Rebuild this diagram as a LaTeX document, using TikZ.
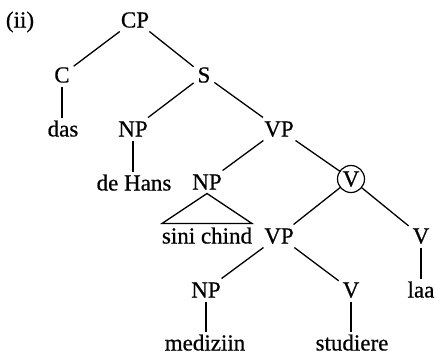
\documentclass[tikz,border=0pt]{standalone}
\usepackage{fontspec}
\setmainfont{Liberation Serif}
\newfontfamily\treefont{Liberation Serif}[FakeBold=0.6]
\begin{document}
\begin{tikzpicture}[x=1pt,y=-1pt,
  lbl/.style={inner sep=0pt,outer sep=4pt,text height=15pt,text depth=0pt,font=\treefont\fontsize{23}{27}\selectfont},
  circ/.style={circle,draw,line width=1.2pt,inner sep=0pt,outer sep=0pt,minimum size=27pt,text height=15pt,text depth=0pt,font=\treefont\fontsize{23}{27}\selectfont},
  edge/.style={line width=1.3pt}]
\useasboundingbox (0,0) rectangle (435,354);
\node[lbl] (ii) at (20,20) {(ii)};
\node[lbl] (CP) at (135,20) {CP};
\node[lbl] (C) at (62,75) {C};
\node[lbl] (das) at (63,129) {das};
\node[lbl] (S) at (204,75) {S};
\node[lbl] (NPa) at (133,129) {NP};
\node[lbl] (dehans) at (134,183) {de Hans};
\node[lbl] (VPa) at (279,129) {VP};
\node[lbl] (NPb) at (207,182) {NP};
\node[circ] (Vc) at (351,179) {V};
\node[lbl] (sini) at (207,236) {sini chind};
\node[lbl] (VPb) at (279,236) {VP};
\node[lbl] (Vr) at (421,236) {V};
\node[lbl] (laa) at (421,290) {laa};
\node[lbl] (NPc) at (206,290) {NP};
\node[lbl] (Vd) at (351,290) {V};
\node[lbl] (med) at (205,343) {mediziin};
\node[lbl] (stud) at (352,343) {studiere};
\draw[edge] (CP) -- (C);
\draw[edge] (CP) -- (S);
\draw[edge] (C) -- (C |- das.north);
\draw[edge] (S) -- (NPa);
\draw[edge] (S) -- (VPa);
\draw[edge] (NPa) -- (NPa |- dehans.north);
\draw[edge] (VPa) -- (NPb);
\draw[edge] (VPa) -- (Vc);
\draw[edge] (NPb.south) -- ++(-45,30) -- ++(90,0) -- cycle;
\draw[edge] (Vc) -- (VPb);
\draw[edge] (Vc) -- (Vr);
\draw[edge] (Vr) -- (Vr |- laa.north);
\draw[edge] (VPb) -- (NPc);
\draw[edge] (VPb) -- (Vd);
\draw[edge] (NPc) -- (NPc |- med.north);
\draw[edge] (Vd) -- (Vd |- stud.north);
\end{tikzpicture}
\end{document}
